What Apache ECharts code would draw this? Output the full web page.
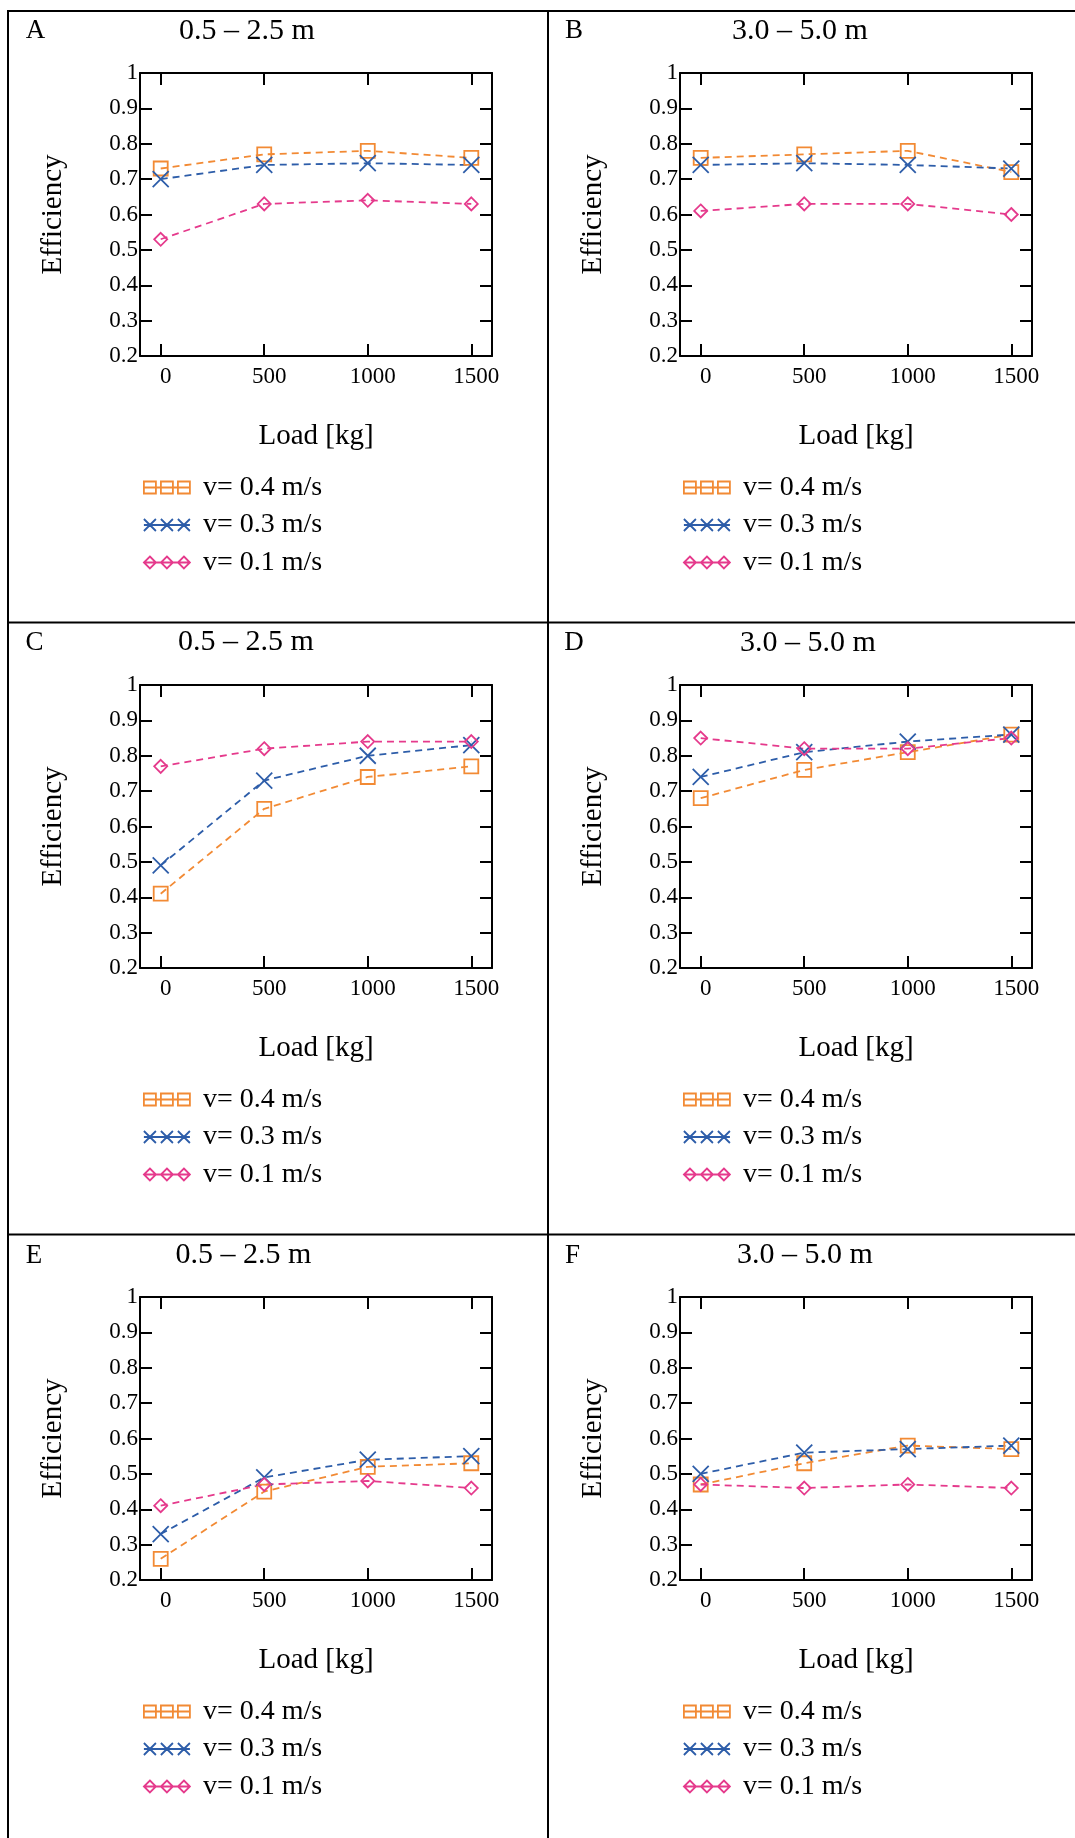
<!DOCTYPE html>
<html>
<head>
<meta charset="utf-8">
<script src="https://cdn.jsdelivr.net/npm/echarts@6/dist/echarts.min.js"></script>
<style>
  html, body { margin: 0; padding: 0; background: #fff; }
  #chart { width: 1075px; height: 1838px; }
</style>
</head>
<body>
<div id="chart"></div>
<script>
// ---- data ----
const loads = [0, 500, 1000, 1500];
const xTickValues = [0, 500, 1000, 1500];
const speedNames = ['v= 0.4 m/s', 'v= 0.3 m/s', 'v= 0.1 m/s'];
const panelLetters = ['A', 'B', 'C', 'D', 'E', 'F'];
const rangeTitles = ['0.5 – 2.5 m', '3.0 – 5.0 m', '0.5 – 2.5 m', '3.0 – 5.0 m', '0.5 – 2.5 m', '3.0 – 5.0 m'];

const effA_v04 = [0.73, 0.77, 0.78, 0.76];
const effA_v03 = [0.70, 0.74, 0.745, 0.74];
const effA_v01 = [0.53, 0.63, 0.64, 0.63];

const effB_v04 = [0.76, 0.77, 0.78, 0.72];
const effB_v03 = [0.74, 0.745, 0.74, 0.73];
const effB_v01 = [0.61, 0.63, 0.63, 0.60];

const effC_v04 = [0.41, 0.65, 0.74, 0.77];
const effC_v03 = [0.49, 0.73, 0.80, 0.83];
const effC_v01 = [0.77, 0.82, 0.84, 0.84];

const effD_v04 = [0.68, 0.76, 0.81, 0.86];
const effD_v03 = [0.74, 0.81, 0.84, 0.86];
const effD_v01 = [0.85, 0.82, 0.82, 0.85];

const effE_v04 = [0.26, 0.45, 0.52, 0.53];
const effE_v03 = [0.33, 0.49, 0.54, 0.55];
const effE_v01 = [0.41, 0.47, 0.48, 0.46];

const effF_v04 = [0.47, 0.53, 0.58, 0.57];
const effF_v03 = [0.50, 0.56, 0.57, 0.58];
const effF_v01 = [0.47, 0.46, 0.47, 0.46];

const panelSeries = [
  [effA_v04, effA_v03, effA_v01],
  [effB_v04, effB_v03, effB_v01],
  [effC_v04, effC_v03, effC_v01],
  [effD_v04, effD_v03, effD_v01],
  [effE_v04, effE_v03, effE_v01],
  [effF_v04, effF_v03, effF_v01]
];

// ---- styling / layout ----
const FONT = '"Liberation Serif", "Times New Roman", serif';
const COLORS = ['#F28A34', '#2D5DA9', '#E53A8C'];
const SYMBOLS = ['rect', 'path://M0,0L14,14M14,0L0,14', 'diamond'];
const SYMBOL_SIZES = [14, 16, 13];
const LEGEND_ICONS = [
  'path://M0,0H12V12H0Z M17,0H29V12H17Z M34,0H46V12H34Z M0,6H46',
  'path://M0,0L12,12M12,0L0,12 M17,0L29,12M29,0L17,12 M34,0L46,12M46,0L34,12 M0,6H46',
  'path://M6,0L12,6L6,12L0,6Z M23,0L29,6L23,12L17,6Z M40,0L46,6L40,12L34,6Z M0,6H46'
];
const COL_X = [0, 540];
const ROW_Y = [0, 612, 1224];
const TITLE_POS = [[247, 31], [800, 31], [246, 642.5], [808, 643], [243.5, 1255.5], [805, 1255.5]];
const LETTER_POS = [[35.5, 31], [574, 31], [34.5, 642.5], [574, 642.5], [34, 1255.5], [572.5, 1255.5]];

const grids = [], xAxes = [], yAxes = [], series = [], legends = [], graphics = [];

const axisLineStyle = { color: '#000', width: 2 };

for (let p = 0; p < 6; p++) {
  const r = Math.floor(p / 2), c = p % 2;
  const ox = COL_X[c], oy = ROW_Y[r];
  grids.push({ left: 140 + ox, top: 73 + oy, width: 352, height: 283 });

  // bottom x axis with labels
  xAxes.push({
    gridIndex: p, type: 'value', min: -100, max: 1600, position: 'bottom',
    name: 'Load [kg]', nameLocation: 'middle', nameGap: 66,
    nameTextStyle: { fontFamily: FONT, fontSize: 29, color: '#000' },
    axisLine: { show: true, onZero: false, lineStyle: axisLineStyle },
    axisTick: { show: true, inside: true, length: 12, lineStyle: axisLineStyle, customValues: xTickValues },
    axisLabel: {
      show: true, customValues: xTickValues, fontFamily: FONT, fontSize: 23, color: '#000',
      margin: 9, padding: [0, 0, 0, 10], formatter: v => String(v)
    },
    splitLine: { show: false }
  });
  // top x axis: frame with inward ticks
  xAxes.push({
    gridIndex: p, type: 'value', min: -100, max: 1600, position: 'top',
    axisLine: { show: true, onZero: false, lineStyle: axisLineStyle },
    axisTick: { show: true, inside: true, length: 12, lineStyle: axisLineStyle, customValues: xTickValues },
    axisLabel: { show: false },
    splitLine: { show: false }
  });
  // left y axis with labels
  yAxes.push({
    gridIndex: p, type: 'value', min: 0.2, max: 1, interval: 0.1, position: 'left',
    name: 'Efficiency', nameLocation: 'middle', nameGap: 72,
    nameTextStyle: { fontFamily: FONT, fontSize: 29, color: '#000' },
    axisLine: { show: true, onZero: false, lineStyle: axisLineStyle },
    axisTick: { show: true, inside: true, length: 12, lineStyle: axisLineStyle },
    axisLabel: {
      fontFamily: FONT, fontSize: 23, color: '#000', margin: 2, padding: [8, 0, 0, 0],
      formatter: v => (Math.abs(v - 1) < 1e-9 ? '1' : v.toFixed(1))
    },
    splitLine: { show: false }
  });
  // right y axis: frame with inward ticks
  yAxes.push({
    gridIndex: p, type: 'value', min: 0.2, max: 1, interval: 0.1, position: 'right',
    axisLine: { show: true, onZero: false, lineStyle: axisLineStyle },
    axisTick: { show: true, inside: true, length: 12, lineStyle: axisLineStyle },
    axisLabel: { show: false },
    splitLine: { show: false }
  });

  panelSeries[p].forEach((vals, s) => {
    series.push({
      type: 'line', name: speedNames[s],
      xAxisIndex: 2 * p, yAxisIndex: 2 * p,
      data: loads.map((x, i) => [x, vals[i]]),
      symbol: SYMBOLS[s], symbolSize: SYMBOL_SIZES[s],
      itemStyle: { color: 'none', borderColor: COLORS[s], borderWidth: 1.8 },
      lineStyle: { color: COLORS[s], width: 1.8, type: [7, 5] },
      emphasis: { disabled: true },
      animation: false
    });
  });

  legends.push({
    left: 143 + ox, top: 473.5 + oy, orient: 'vertical', padding: 0,
    itemWidth: 46, itemHeight: 12, itemGap: 9.5, selectedMode: false,
    textStyle: { fontFamily: FONT, fontSize: 28, color: '#000', padding: [0, 0, 0, 8] },
    data: speedNames.map((n, s) => ({
      name: n, icon: LEGEND_ICONS[s],
      itemStyle: { color: 'transparent', borderColor: COLORS[s], borderWidth: 1.8 }
    }))
  });

  graphics.push({
    type: 'text', x: TITLE_POS[p][0], y: TITLE_POS[p][1],
    style: { text: rangeTitles[p], fill: '#000', fontSize: 30, fontFamily: FONT, align: 'center', verticalAlign: 'middle' }
  });
  graphics.push({
    type: 'text', x: LETTER_POS[p][0], y: LETTER_POS[p][1],
    style: { text: panelLetters[p], fill: '#000', fontSize: 27, fontFamily: FONT, align: 'center', verticalAlign: 'middle' }
  });
}

// panel frame lines
const frame = { stroke: '#000', lineWidth: 2 };
[11, 622.5, 1234.5].forEach(y => graphics.push({ type: 'line', shape: { x1: 7, y1: y, x2: 1075, y2: y }, style: frame }));
[8, 548].forEach(x => graphics.push({ type: 'line', shape: { x1: x, y1: 10, x2: x, y2: 1838 }, style: frame }));

const chart = echarts.init(document.getElementById('chart'), null, { renderer: 'canvas' });
chart.setOption({
  backgroundColor: '#fff',
  animation: false,
  grid: grids, xAxis: xAxes, yAxis: yAxes,
  series: series, legend: legends, graphic: graphics
});
</script>
</body>
</html>
